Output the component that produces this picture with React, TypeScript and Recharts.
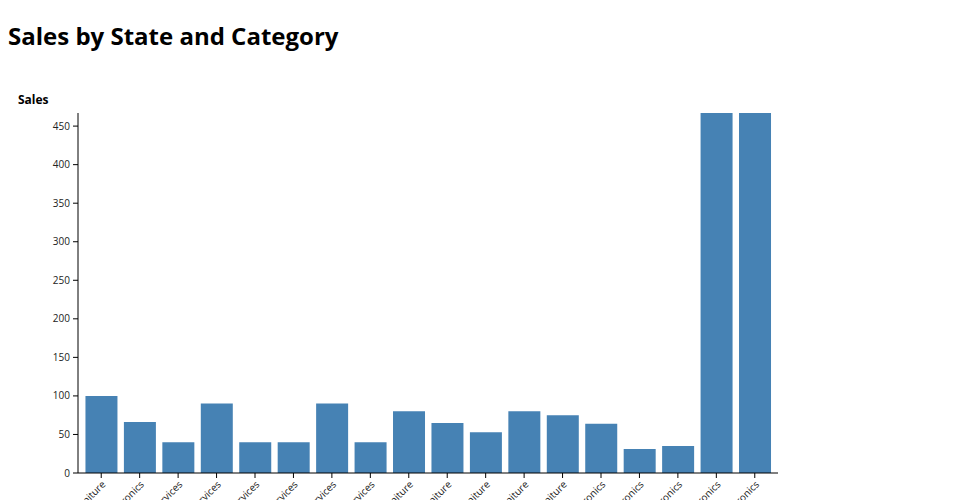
import React from "react";
import { BarChart, Bar, XAxis, YAxis } from "recharts";

const categories = [
  "Alabama, Furniture",
  "Arizona, Electronics",
  "California, Services",
  "Colorado, Services",
  "Florida, Services",
  "Georgia, Services",
  "Illinois, Services",
  "Indiana, Services",
  "Kansas, Furniture",
  "Kentucky, Furniture",
  "Michigan, Furniture",
  "Missouri, Furniture",
  "Nevada, Furniture",
  "New York, Electronics",
  "Ohio, Electronics",
  "Oregon, Electronics",
  "Texas, Electronics",
  "Washington, Electronics",
];

const sales = [100, 66, 40, 90, 40, 40, 90, 40, 80, 65, 53, 80, 75, 64, 31, 35, 620, 640];

const yTicks = [0, 50, 100, 150, 200, 250, 300, 350, 400, 450];

const data = categories.map((c, i) => ({ label: c, sales: sales[i] }));

const FONT = "'Open Sans', sans-serif";

export default function App() {
  return (
    <div style={{ position: "relative", width: 944, height: 600, fontFamily: FONT }}>
      <div
        style={{
          position: "absolute",
          left: 0,
          top: 16,
          fontSize: 24,
          lineHeight: "24px",
          fontWeight: 700,
          color: "#000",
          whiteSpace: "nowrap",
        }}
      >
        Sales by State and Category
      </div>
      <div
        style={{
          position: "absolute",
          left: 10,
          top: 86,
          fontSize: 12,
          lineHeight: "12px",
          fontWeight: 700,
          color: "#000",
        }}
      >
        Sales
      </div>
      <div style={{ position: "absolute", left: 0, top: 0 }}>
        <BarChart
          width={944}
          height={590}
          data={data}
          margin={{ top: 105, right: 174, bottom: 65, left: 10 }}
          barCategoryGap="9%"
        >
          <XAxis
            dataKey="label"
            interval={0}
            padding={{ left: 4, right: 4 }}
            angle={-45}
            textAnchor="end"
            height={60}
            tickSize={5}
            tickMargin={2}
            axisLine={{ stroke: "#000" }}
            tickLine={{ stroke: "#000" }}
            tick={{ fontSize: 10, fill: "#222", fontFamily: FONT }}
          />
          <YAxis
            width={60}
            domain={[0, 467]}
            allowDataOverflow
            ticks={yTicks}
            interval={0}
            tickSize={5}
            tickMargin={3}
            axisLine={{ stroke: "#000" }}
            tickLine={{ stroke: "#000" }}
            tick={{ fontSize: 10, fill: "#222", fontFamily: FONT }}
          />
          <Bar dataKey="sales" fill="#4682b4" isAnimationActive={false} />
        </BarChart>
      </div>
    </div>
  );
}
